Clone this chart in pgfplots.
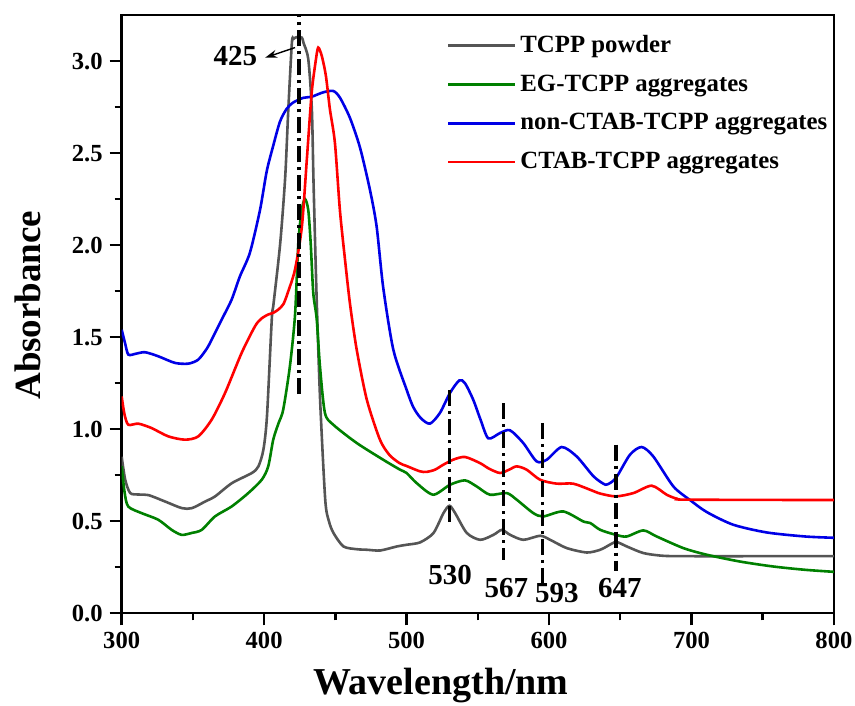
\documentclass[border=0pt]{standalone}
\usepackage{fontspec}
\setmainfont{Liberation Serif}
\usepackage{pgfplots}
\pgfplotsset{compat=1.18}
\usetikzlibrary{arrows.meta}
\definecolor{cgray}{RGB}{85,85,85}
\definecolor{cgreen}{RGB}{0,128,0}
\definecolor{cblue}{RGB}{0,0,230}
\definecolor{cred}{RGB}{255,0,0}
\pgfplotsset{curve/.style={line width=1.3pt, smooth, tension=0.45},
  dd/.style={black, line width=1.6pt, dash pattern=on 8pt off 2.5pt on 1.5pt off 2.5pt, forget plot, sharp plot}}
\begin{document}
\begin{tikzpicture}
\begin{axis}[name=ax,
 scale only axis, width=356.2pt, height=299.2pt,
 xmin=300, xmax=800, ymin=0, ymax=3.25,
 xtick={300,400,...,800}, ytick={0,0.5,...,3.0},
 minor x tick num=1, minor y tick num=1,
 tick align=outside, xtick pos=bottom, ytick pos=left,
 major tick length=6pt, minor tick length=3.5pt,
 axis line style={line width=1.2pt},
 tick style={line width=1.2pt, black},
 /pgf/number format/assume math mode=true,
 yticklabel style={/pgf/number format/.cd, fixed, fixed zerofill, precision=1},
 ticklabel style={font=\fontsize{12.3}{14}\selectfont\bfseries},
 xlabel={Wavelength/nm}, ylabel={Absorbance},
 xlabel style={font=\fontsize{19}{21}\selectfont\bfseries, at={(axis description cs:0.448,-0.121)}, anchor=center},
 ylabel style={font=\fontsize{18.5}{20}\selectfont\bfseries, at={(axis description cs:-0.1315,0.515)}, anchor=center},
 legend style={at={(axis description cs:0.456,0.973)}, anchor=north west, draw=none, fill=none,
   inner sep=0pt, row sep=5.6pt, font=\fontsize{12.4}{14}\selectfont\bfseries},
 legend cell align=left,
 legend image code/.code={\draw[#1, sharp plot] (0pt,0pt) -- (33.5pt,0pt);},
]
\addplot[cgray, curve] coordinates {
(300,0.85) (302.5,0.725) (306,0.653) (312,0.645) (318.8,0.642) (330.5,0.607) (342.3,0.571) (349.3,0.571)
(358.6,0.607) (365.6,0.635) (377.4,0.707) (391.4,0.762) (396,0.798) (399.5,0.889) (402,1.07) (405.4,1.60)
(406.6,1.68) (411.3,2.01) (414.8,2.37) (417,2.74) (419.5,3.10) (420.6,3.12) (423,3.13) (426.5,3.127)
(427.6,3.10) (431,3.01) (433.5,2.74) (434.6,2.37) (435.8,2.01) (437,1.68) (439.3,1.16) (442.9,0.617)
(445.5,0.50) (448.7,0.436) (455.7,0.363) (465,0.348) (472.1,0.345) (481.5,0.341) (493.2,0.363) (500,0.372)
(509.5,0.385) (518.9,0.436) (525.9,0.544) (530.1,0.584) (534.1,0.544) (542.3,0.436) (551.7,0.399) (561,0.426)
(566.9,0.453) (572.7,0.426) (582,0.399) (593.8,0.421) (600.8,0.399) (612.5,0.354) (626.6,0.33) (636,0.345)
(641,0.365) (647.1,0.387) (654.6,0.363) (666.3,0.327) (680.4,0.312) (700,0.31) (750,0.31) (800,0.31)};
\addlegendentry{TCPP powder}
\addplot[cgreen, curve] coordinates {
(300,0.80) (302,0.66) (304.6,0.58) (314,0.544) (325.7,0.508) (335.1,0.453) (342.1,0.426) (349.1,0.436)
(356.2,0.453) (365.5,0.526) (377.2,0.58) (388.9,0.653) (398.3,0.725) (402.9,0.798) (406.4,0.943) (410,1.03)
(413.4,1.106) (418.1,1.342) (421.7,1.62) (424,2.01) (426.4,2.19) (428.7,2.25) (431,2.19) (432.7,2.01)
(434.5,1.74) (436.9,1.60) (439.2,1.342) (442.7,1.088) (448.6,1.024) (465,0.925) (483.6,0.834) (495.4,0.78)
(500,0.762) (507.1,0.707) (518.7,0.644) (530.5,0.698) (541,0.722) (549.2,0.689) (558.5,0.644) (570.3,0.653)
(577.3,0.617) (589,0.544) (596,0.526) (610,0.553) (624,0.499) (629,0.49) (636,0.453) (647,0.426)
(654.5,0.417) (666.2,0.45) (675.6,0.417) (694.3,0.354) (710.7,0.318) (734,0.281) (757.4,0.254) (779.8,0.236) (800,0.225)};
\addlegendentry{EG-TCPP aggregates}
\addplot[cblue, curve] coordinates {
(300,1.54) (302.3,1.47) (304.7,1.405) (310,1.41) (316.4,1.418) (325.7,1.396) (337.4,1.36) (346.8,1.356)
(353.8,1.378) (360,1.44) (363.2,1.487) (370.2,1.595) (377.2,1.704) (383,1.83) (390,1.958) (397.1,2.19)
(401.8,2.40) (406.4,2.54) (411.1,2.67) (415.8,2.74) (420.5,2.775) (427.5,2.80) (433.4,2.806) (441.5,2.83)
(448.6,2.837) (453.3,2.80) (460.3,2.69) (467.3,2.53) (474.3,2.30) (479,2.10) (483.6,1.77) (490.7,1.432)
(500,1.215) (504.7,1.12) (510,1.06) (516.4,1.03) (523.4,1.088) (530.5,1.197) (537,1.265) (541,1.25)
(546.8,1.16) (552,1.05) (557.4,0.95) (565.6,0.979) (572.6,0.994) (581.9,0.925) (591.3,0.825) (598.4,0.834)
(608.9,0.903) (619.4,0.852) (631.1,0.745) (638.1,0.704) (641,0.70) (647,0.735) (656.8,0.861) (665,0.903)
(673.2,0.852) (687.3,0.689) (699,0.615) (710.7,0.55) (729.3,0.481) (752.8,0.439) (779.8,0.417) (800,0.41)};
\addlegendentry{non-CTAB-TCPP aggregates}
\addplot[cred, curve] coordinates {
(300,1.178) (302,1.08) (304.7,1.024) (311.7,1.03) (321,1.006) (332.7,0.961) (344.4,0.943) (353.8,0.961)
(363.2,1.052) (372.6,1.197) (384.2,1.414) (393.6,1.559) (398,1.60) (402.9,1.623) (406.4,1.632) (410,1.65)
(413.6,1.68) (417,1.75) (421.7,1.868) (426.5,2.10) (430,2.466) (433.4,2.828) (436.4,3.01) (438,3.073)
(440.5,3.027) (443.4,2.918) (446.2,2.737) (449.7,2.556) (453.2,2.19) (456.8,1.92) (460.3,1.68) (465,1.432)
(472.1,1.16) (481.3,0.943) (488,0.86) (495,0.816) (500,0.80) (509.4,0.771) (514.1,0.768) (520,0.78)
(525.8,0.807) (533,0.835) (541,0.849) (551.5,0.816) (558,0.785) (565.6,0.762) (572,0.78) (577.3,0.798)
(584.3,0.78) (593.8,0.725) (605.5,0.704) (617,0.704) (628.8,0.671) (636,0.65) (647,0.635) (659.3,0.653)
(672.1,0.693) (682.6,0.644) (690,0.622) (699,0.617) (800,0.615)};
\addlegendentry{CTAB-TCPP aggregates}
\addplot[dd] coordinates {(424.5,1.19) (424.5,3.25)};
\addplot[dd] coordinates {(530.1,1.215) (530.1,0.471)};
\addplot[dd] coordinates {(568,1.142) (568,0.29)};
\addplot[dd] coordinates {(595.5,1.034) (595.5,0.164)};
\addplot[dd] coordinates {(647,0.916) (647,0.227)};
\draw[-{Stealth[length=6pt,width=4pt]}, line width=0.7pt] (axis cs:421.7,3.073) -- (axis cs:400.7,3.018);
\node[font=\fontsize{14.5}{16}\selectfont\bfseries] at (axis cs:379.8,3.027) {425};
\node[font=\fontsize{14.5}{16}\selectfont\bfseries] at (axis cs:530.5,0.209) {530};
\node[font=\fontsize{14.5}{16}\selectfont\bfseries] at (axis cs:570,0.136) {567};
\node[font=\fontsize{14.5}{16}\selectfont\bfseries] at (axis cs:605.5,0.109) {593};
\node[font=\fontsize{14.5}{16}\selectfont\bfseries] at (axis cs:649.8,0.136) {647};
\end{axis}
\pgfresetboundingbox
\path ([xshift=-60.85pt,yshift=-46.3pt]ax.south west) rectangle ([xshift=10.55pt,yshift=7.5pt]ax.north east);
\end{tikzpicture}
\end{document}
